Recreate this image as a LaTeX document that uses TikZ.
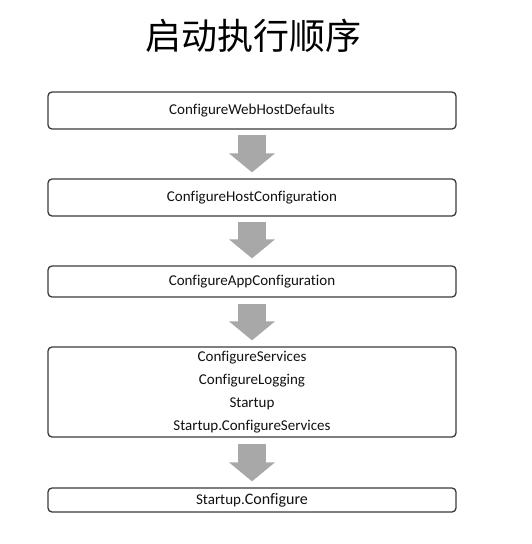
\documentclass[tikz,border=0pt]{standalone}
\usepackage{fontspec}
\setmainfont[Ligatures=NoCommon]{Carlito}
\newfontfamily\cjk{Noto Sans CJK SC}
\usetikzlibrary{arrows.meta}
\definecolor{boxline}{HTML}{3A3A3A}
\definecolor{arrowgray}{HTML}{A8A8A8}
\definecolor{txt}{HTML}{111111}
\begin{document}
\begin{tikzpicture}[x=1pt,y=-1pt,
  stepbox/.style={draw=boxline, line width=1.3pt, rounded corners=4pt, minimum width=408pt, inner sep=0pt, text=txt, font=\fontsize{15}{23}\selectfont, align=center},
  bigarrow/.style={draw=arrowgray, line width=28pt, -{Triangle[width=45pt,length=19pt]}, arrowgray}
]
\useasboundingbox (0,0) rectangle (532,544);
\node[font=\cjk\fontsize{36}{40}\selectfont, text=black] (title) at (253,36) {启动执行顺序};
\node[stepbox, minimum height=37pt] (b1) at (252,110.5) {ConfigureWebHostDefaults};
\node[stepbox, minimum height=37pt] (b2) at (252,197.5) {ConfigureHostConfiguration};
\node[stepbox, minimum height=31pt] (b3) at (252,281.5) {ConfigureAppConfiguration};
\node[stepbox, minimum height=90pt] (b4) at (252,392) {ConfigureServices\\ConfigureLogging\\Startup\\Startup.ConfigureServices};
\node[stepbox, minimum height=24pt] (b5) at (252,500) {Startup.{\fontsize{16}{23}\selectfont Configure}};
\draw[bigarrow, shorten <=5pt, shorten >=6pt] (b1.south) -- (b2.north);
\draw[bigarrow, shorten <=5pt, shorten >=7pt] (b2.south) -- (b3.north);
\draw[bigarrow, shorten <=6pt, shorten >=6pt] (b3.south) -- (b4.north);
\draw[bigarrow, shorten <=6pt, shorten >=6pt] (b4.south) -- (b5.north);
\end{tikzpicture}
\end{document}
